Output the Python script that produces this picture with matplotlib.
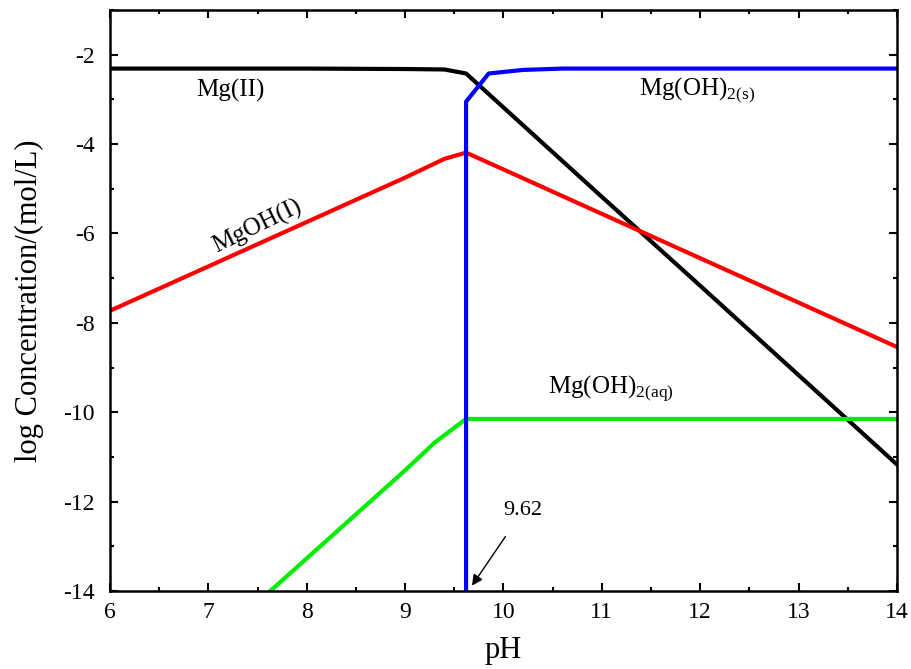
import matplotlib
matplotlib.use("Agg")
import matplotlib.pyplot as plt
from matplotlib.ticker import MultipleLocator

plt.rcParams['font.family'] = ['Liberation Serif', 'DejaVu Serif']
plt.rcParams['mathtext.fontset'] = 'custom'
plt.rcParams['mathtext.rm'] = 'Liberation Serif'
plt.rcParams['axes.unicode_minus'] = False

# Mg(II) free ion
ph_mg = [6, 7, 8, 9, 9.4, 9.62, 10, 11, 12, 13, 14]
log_mg = [-2.31, -2.31, -2.31, -2.32, -2.33, -2.42, -3.18, -5.18, -7.17, -9.17, -11.17]

# MgOH+
ph_mgoh = [6, 9.0, 9.4, 9.62, 14]
log_mgoh = [-7.73, -4.75, -4.33, -4.19, -8.54]

# Mg(OH)2(aq)
ph_aq = [7.63, 9.0, 9.3, 9.62, 14]
log_aq = [-14.0, -11.30, -10.68, -10.15, -10.15]

# Mg(OH)2(s)
ph_s = [9.62, 9.62, 9.85, 10.2, 10.6, 14]
log_s = [-14.0, -3.05, -2.42, -2.34, -2.31, -2.31]

ph_boundary = 9.62

fig = plt.figure(figsize=(9.11, 6.69), dpi=100)
ax = fig.add_axes([0.1207, 0.1166, 0.8639, 0.8684])

ax.plot(ph_mg, log_mg, color='black', lw=3)
ax.plot(ph_mgoh, log_mgoh, color='#ff0000', lw=3)
ax.plot(ph_aq, log_aq, color='#00ee00', lw=3)
ax.plot(ph_s, log_s, color='#0000ff', lw=3)

ax.set_xlim(6, 14)
ax.set_ylim(-14, -1)
ax.xaxis.set_major_locator(MultipleLocator(1))
ax.xaxis.set_minor_locator(MultipleLocator(0.5))
ax.yaxis.set_major_locator(MultipleLocator(2))
ax.yaxis.set_minor_locator(MultipleLocator(1))
ax.tick_params(which='both', direction='in', top=True, right=True, width=1.5)
ax.tick_params(which='major', length=6, labelsize=17)
ax.tick_params(which='minor', length=3)
ax.tick_params(axis='x', which='major', pad=8)
ax.tick_params(axis='y', which='major', pad=11)
for s in ax.spines.values():
    s.set_linewidth(1.8)

ax.set_xlabel('pH', fontsize=22, labelpad=9)
ax.set_ylabel('log Concentration/(mol/L)', fontsize=22, labelpad=14)

ax.text(7.22, -2.8, 'Mg(II)', fontsize=18, ha='center', va='center')
ax.text(11.38, -2.8, r'Mg(OH)$_{2(\mathrm{s})}$', fontsize=18, ha='left', va='center')
ax.text(7.5, -5.85, 'MgOH(I)', fontsize=18, ha='center', va='center', rotation=26)
ax.text(10.45, -9.45, r'Mg(OH)$_{2(\mathrm{aq})}$', fontsize=18, ha='left', va='center')

ax.annotate(f'{ph_boundary:.2f}', xy=(9.68, -13.88), xytext=(10.2, -12.2),
            fontsize=16, ha='center', va='center',
            arrowprops=dict(arrowstyle='-|>', color='black', lw=1.0,
                            shrinkA=12, shrinkB=0, mutation_scale=16))

fig.savefig('out.png', dpi=100)
